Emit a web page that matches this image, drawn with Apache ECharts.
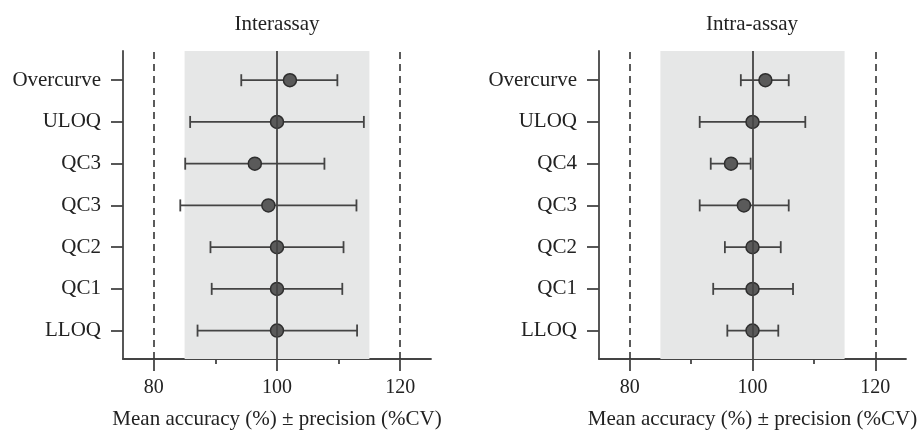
<!DOCTYPE html>
<html>
<head>
<meta charset="utf-8">
<script src="https://cdn.jsdelivr.net/npm/echarts@6/dist/echarts.min.js"></script>
<style>html,body{margin:0;padding:0;background:#fff;}#c{width:917px;height:432px;}</style>
</head>
<body>
<div id="c"></div>
<script>
// Categories, listed top to bottom
var interCategories = ['Overcurve', 'ULOQ', 'QC3', 'QC3', 'QC2', 'QC1', 'LLOQ'];
var intraCategories = ['Overcurve', 'ULOQ', 'QC4', 'QC3', 'QC2', 'QC1', 'LLOQ'];
// Interassay: mean, lower, upper (top to bottom)
var interMean  = [102.1, 100.0, 96.4, 98.6, 100.0, 100.0, 100.0];
var interLow   = [94.2, 85.9, 85.1, 84.3, 89.2, 89.4, 87.1];
var interHigh  = [109.8, 114.1, 107.7, 112.9, 110.8, 110.6, 113.0];
// Intra-assay
var intraMean  = [102.1, 100.0, 96.5, 98.6, 100.0, 100.0, 100.0];
var intraLow   = [98.1, 91.4, 93.2, 91.4, 95.5, 93.6, 95.9];
var intraHigh  = [105.9, 108.6, 99.7, 105.9, 104.6, 106.6, 104.2];
// Axis ticks
var majorTicks = [80, 100, 120];
var minorTicks = [90, 110];
var acceptLow = 85, acceptHigh = 115;
var limitLow = 80, limitHigh = 120, nominal = 100;
var titles = ['Interassay', 'Intra-assay'];
var xName = 'Mean accuracy (%) \u00b1 precision (%CV)';

var FONT = 'Liberation Serif';
var LINE = '#444';
var TXT = '#222';

function rowIndex(cats, i) { return cats.length - 1 - i; }

var grids = [
  {left: 123, top: 51, width: 308, height: 308, outerBoundsMode: 'none', containLabel: false},
  {left: 599, top: 51, width: 307, height: 308, outerBoundsMode: 'none', containLabel: false}
];
var panels = [
  {cats: interCategories, mean: interMean, low: interLow, high: interHigh},
  {cats: intraCategories, mean: intraMean, low: intraLow, high: intraHigh}
];

var xAxes = [], yAxes = [], series = [], title = [];
panels.forEach(function (p, gi) {
  var n = p.cats.length;
  var rows = [];
  for (var k = 0; k < n; k++) rows.push(k);
  xAxes.push({
    gridIndex: gi, type: 'value', min: 75, max: 125, position: 'bottom',
    name: xName, nameLocation: 'middle', nameGap: 50,
    nameTextStyle: {fontFamily: FONT, fontSize: 21, color: TXT},
    axisLine: {show: true, onZero: false, lineStyle: {color: LINE, width: 1.8}},
    axisTick: {show: true, customValues: majorTicks, length: 12, lineStyle: {color: LINE, width: 1.8}},
    axisLabel: {show: true, customValues: majorTicks, margin: 19, fontFamily: FONT, fontSize: 20, color: TXT},
    splitLine: {show: false}
  });
  xAxes.push({
    gridIndex: gi, type: 'value', min: 75, max: 125, position: 'bottom', offset: 0,
    axisLine: {show: false, onZero: false},
    axisTick: {show: true, customValues: minorTicks, length: 5, lineStyle: {color: LINE, width: 1.8}},
    axisLabel: {show: false},
    splitLine: {show: false}
  });
  yAxes.push({
    gridIndex: gi, type: 'value', min: -0.68, max: 6.7,
    axisLine: {show: true, onZero: false, lineStyle: {color: LINE, width: 1.8}},
    axisTick: {show: true, customValues: rows, length: 12, lineStyle: {color: LINE, width: 1.8}},
    axisLabel: {show: true, customValues: rows, margin: 22, fontFamily: FONT, fontSize: 21, color: TXT,
      formatter: (function (cats) { return function (v) { return cats[cats.length - 1 - Math.round(v)]; }; })(p.cats)},
    splitLine: {show: false}
  });
  var bars = [], pts = [];
  for (var i = 0; i < n; i++) {
    bars.push([p.low[i], p.high[i], rowIndex(p.cats, i)]);
    pts.push([p.mean[i], rowIndex(p.cats, i)]);
  }
  // background band + reference lines
  series.push({
    type: 'line', xAxisIndex: gi * 2, yAxisIndex: gi, data: [], silent: true, z: 1,
    markArea: {silent: true, itemStyle: {color: '#e6e7e7'}, data: [[{xAxis: acceptLow}, {xAxis: acceptHigh}]]},
    markLine: {silent: true, symbol: 'none', label: {show: false}, animation: false,
      data: [
        {xAxis: limitLow, lineStyle: {color: '#333', width: 1.6, type: [7, 5]}},
        {xAxis: limitHigh, lineStyle: {color: '#333', width: 1.6, type: [7, 5]}},
        {xAxis: nominal, lineStyle: {color: LINE, width: 1.8, type: 'solid'}}
      ]}
  });
  series.push({
    type: 'custom', xAxisIndex: gi * 2, yAxisIndex: gi, z: 3, silent: true,
    data: bars,
    renderItem: function (params, api) {
      var a = api.coord([api.value(0), api.value(2)]);
      var b = api.coord([api.value(1), api.value(2)]);
      var h = 6;
      var st = {stroke: LINE, lineWidth: 1.8};
      return {type: 'group', children: [
        {type: 'line', shape: {x1: a[0], y1: a[1], x2: b[0], y2: b[1]}, style: st},
        {type: 'line', shape: {x1: a[0], y1: a[1] - h, x2: a[0], y2: a[1] + h}, style: st},
        {type: 'line', shape: {x1: b[0], y1: b[1] - h, x2: b[0], y2: b[1] + h}, style: st}
      ]};
    }
  });
  series.push({
    type: 'scatter', xAxisIndex: gi * 2, yAxisIndex: gi, z: 4, silent: true,
    symbol: 'circle', symbolSize: 13, data: pts,
    itemStyle: {color: '#5a5a5a', borderColor: '#2e2e2e', borderWidth: 1.5, opacity: 1}
  });
  title.push({
    text: titles[gi], left: grids[gi].left + (gi === 0 ? 154 : 153), top: 14, padding: 0, textAlign: 'center',
    textStyle: {fontFamily: FONT, fontSize: 21, fontWeight: 'normal', color: TXT}
  });
});

var chart = echarts.init(document.getElementById('c'), null, {renderer: 'canvas'});
chart.setOption({
  animation: false,
  backgroundColor: '#fff',
  title: title,
  grid: grids,
  xAxis: xAxes,
  yAxis: yAxes,
  series: series
});
</script>
</body>
</html>
